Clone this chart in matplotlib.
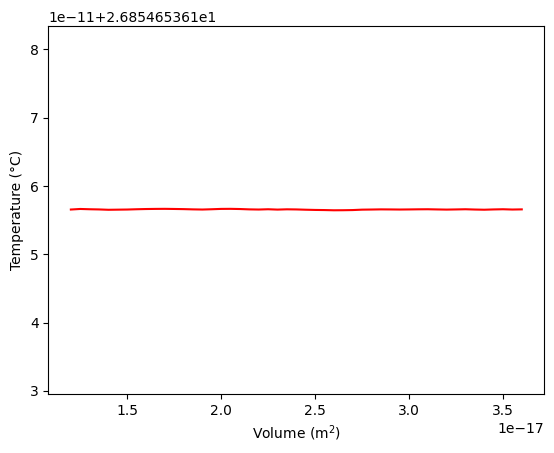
import numpy as np
import matplotlib.pyplot as plt

base = 26.85465361
volume = np.array([1.20, 1.25, 1.30, 1.35, 1.40, 1.45, 1.50, 1.55, 1.60, 1.65,
                   1.70, 1.75, 1.80, 1.85, 1.90, 1.95, 2.00, 2.05, 2.10, 2.15,
                   2.20, 2.25, 2.30, 2.35, 2.40, 2.45, 2.50, 2.55, 2.60, 2.65,
                   2.70, 2.75, 2.80, 2.85, 2.90, 2.95, 3.00, 3.05, 3.10, 3.15,
                   3.20, 3.25, 3.30, 3.35, 3.40, 3.45, 3.50, 3.55, 3.60]) * 1e-17
temp_dev = np.array([5.656, 5.664, 5.660, 5.657, 5.652, 5.654, 5.656, 5.660, 5.663, 5.665,
                     5.666, 5.664, 5.662, 5.658, 5.656, 5.660, 5.665, 5.666, 5.663, 5.658,
                     5.656, 5.660, 5.655, 5.659, 5.657, 5.653, 5.650, 5.648, 5.645, 5.646,
                     5.648, 5.654, 5.656, 5.658, 5.657, 5.656, 5.657, 5.659, 5.660, 5.657,
                     5.655, 5.657, 5.660, 5.656, 5.653, 5.657, 5.660, 5.656, 5.658]) * 1e-11
temperature = base + temp_dev

fig = plt.figure(figsize=(5.54, 4.53), dpi=100)
ax = fig.add_axes([0.0872, 0.1302, 0.8953, 0.8124])
ax.plot(volume, temperature, color="red", linewidth=1.5)
ax.set_ylim(base + 2.955e-11, base + 8.343e-11)
ax.set_xlabel("Volume (m$^2$)")
ax.set_ylabel("Temperature (°C)")

fig.savefig("out.png", dpi=100)
